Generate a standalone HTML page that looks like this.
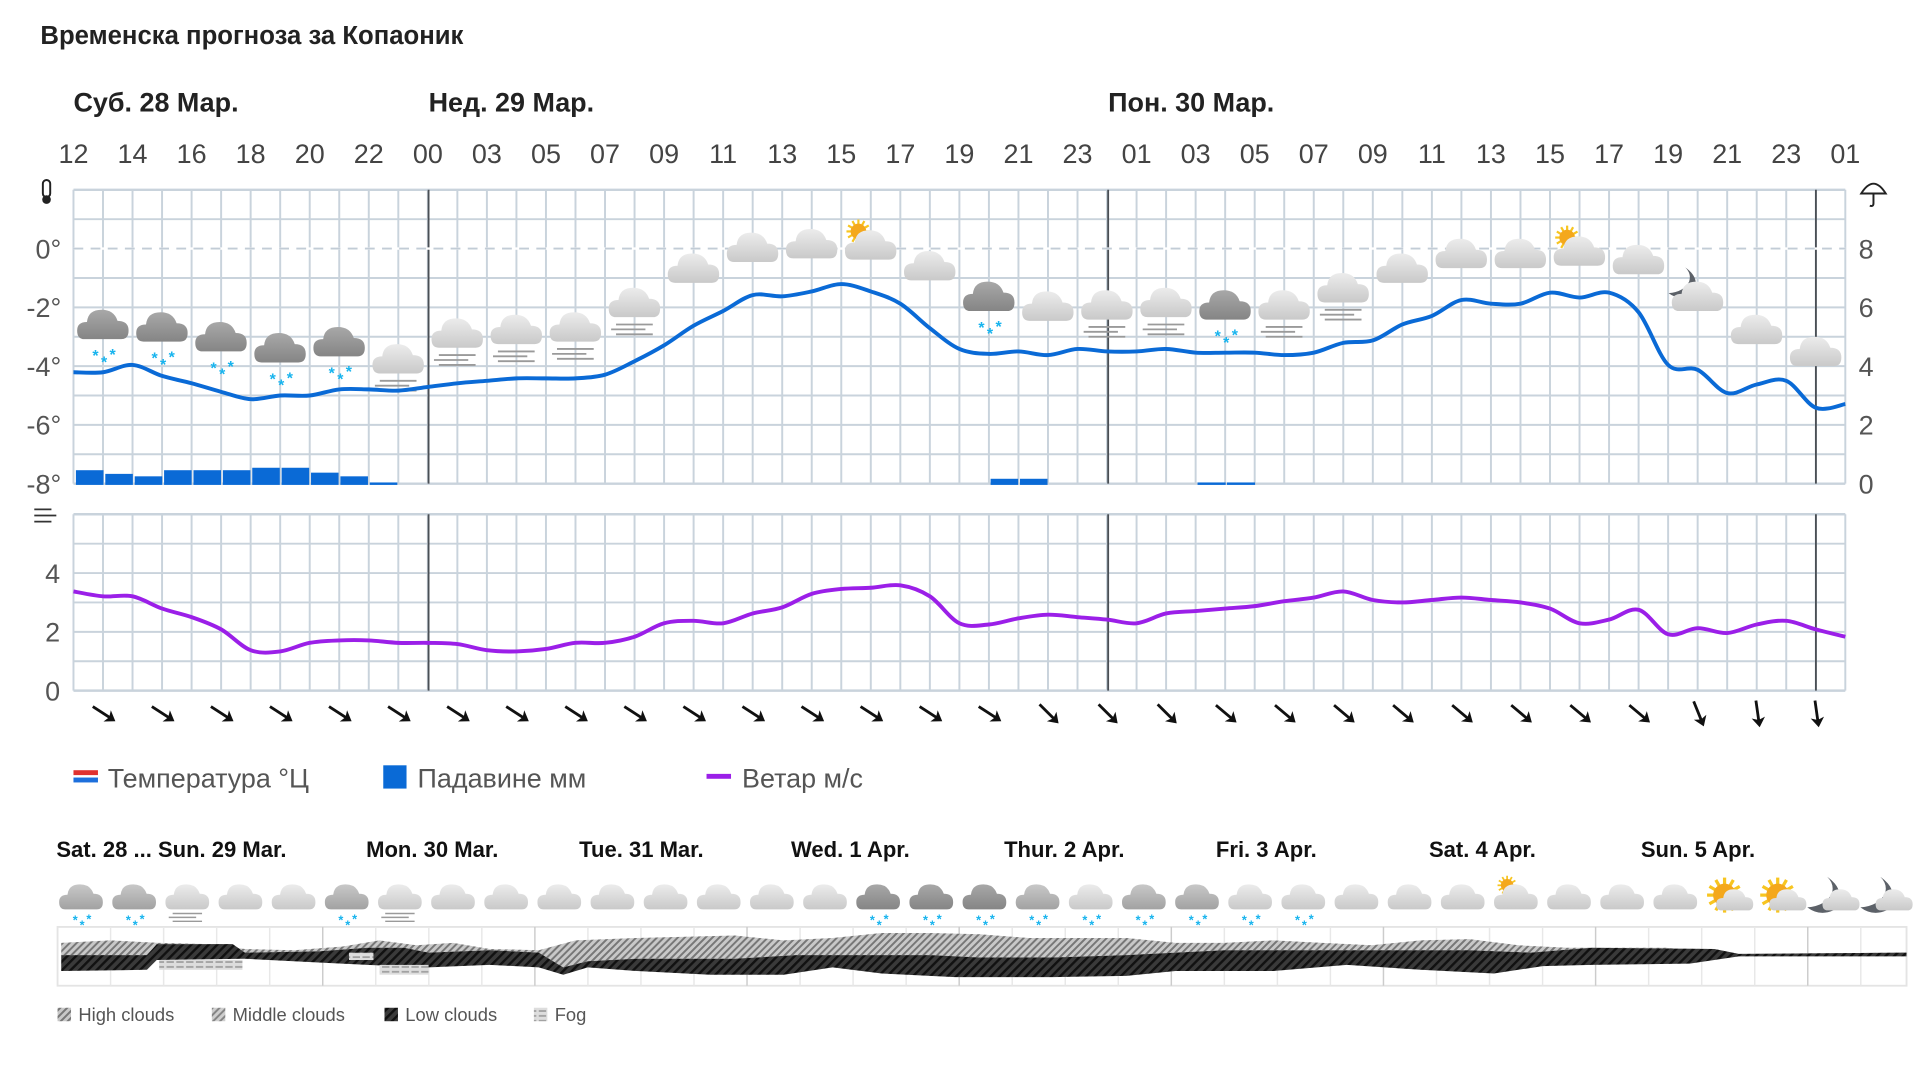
<!DOCTYPE html>
<html><head><meta charset="utf-8"><style>
html,body{margin:0;padding:0;background:#fff;width:1920px;height:1080px;overflow:hidden}
svg{display:block}
text{font-family:"Liberation Sans",sans-serif}
</style></head><body>
<svg id="s" width="1920" height="1080" viewBox="0 0 1568 882" xmlns="http://www.w3.org/2000/svg">
<defs>
<linearGradient id="gl" x1="0" y1="0" x2="0" y2="1"><stop offset="0" stop-color="#ececec"/><stop offset="1" stop-color="#c9c9c9"/></linearGradient>
<linearGradient id="gd" x1="0" y1="0" x2="0" y2="1"><stop offset="0" stop-color="#a8a8a8"/><stop offset="1" stop-color="#858585"/></linearGradient>
<linearGradient id="gm" x1="0" y1="0" x2="0" y2="1"><stop offset="0" stop-color="#c8c8c8"/><stop offset="1" stop-color="#a2a2a2"/></linearGradient>
<pattern id="pl" width="5" height="5" patternUnits="userSpaceOnUse" patternTransform="rotate(45)"><rect width="5" height="5" fill="#3a3a3a"/><rect width="2" height="5" fill="#111"/></pattern>
<pattern id="ph" width="4" height="4" patternUnits="userSpaceOnUse" patternTransform="rotate(45)"><rect width="4" height="4" fill="#c8c8c8"/><rect width="1.6" height="4" fill="#777"/></pattern>
<pattern id="pf" width="8" height="4" patternUnits="userSpaceOnUse"><rect width="8" height="4" fill="#ddd"/><rect y="1" width="6" height="1.3" fill="#999"/></pattern>
</defs>
</svg>
<script>
const S=document.getElementById('s');let h='';
const T=(x,y,t,sz,o)=>{o=o||{};h+=`<text x="${x}" y="${y}" font-size="${sz}" fill="${o.f||'#333'}" font-weight="${o.b?'bold':'normal'}" text-anchor="${o.a||'start'}">${t}</text>`};
T(33,36,'Временска прогноза за Копаоник',21,{b:1,f:'#222'});
T(60,91,'Суб. 28 Мар.',22,{b:1,f:'#222'});T(350,91,'Нед. 29 Мар.',22,{b:1,f:'#222'});T(905,91,'Пон. 30 Мар.',22,{b:1,f:'#222'});
const hrs='12 14 16 18 20 22 00 03 05 07 09 11 13 15 17 19 21 23 01 03 05 07 09 11 13 15 17 19 21 23 01'.split(' ');
const st=(1507-60)/60;
hrs.forEach((t,i)=>T(60+i*2*st,133,t,22,{a:'middle',f:'#444'}));
function grid(y0,y1,dash){for(let i=0;i<=60;i++){let x=60+i*st;h+=`<line x1="${x}" y1="${y0}" x2="${x}" y2="${y1}" stroke="#c9d3dc" stroke-width="1.6"/>`;}
for(let y=y0;y<=y1+0.1;y+=24){h+=`<line x1="60" y1="${y}" x2="1507" y2="${y}" stroke="#c9d3dc" stroke-width="${y==y0||y==y1?2:1.6}"/>`;}
[350,905,1483].forEach(x=>h+=`<line x1="${x}" y1="${y0}" x2="${x}" y2="${y1}" stroke="#4a4f55" stroke-width="1.5"/>`);}
grid(155,395,203);grid(420,564);
h+=`<line x1="60" y1="203" x2="1507" y2="203" stroke="#fff" stroke-width="2"/><line x1="60" y1="203" x2="1507" y2="203" stroke="#c2ccd6" stroke-width="1.6" stroke-dasharray="8 6"/>`;
[['0°',203],['-2°',251],['-4°',299],['-6°',347],['-8°',395]].forEach(a=>T(50,a[1]+8,a[0],22,{a:'end',f:'#555'}));
[['8',203],['6',251],['4',299],['2',347],['0',395]].forEach(a=>T(1524,a[1]+8,a[0],22,{a:'middle',f:'#555'}));
[['4',468],['2',516],['0',564]].forEach(a=>T(43,a[1]+8,a[0],22,{a:'middle',f:'#555'}));
h+=`<rect x="35" y="147" width="6" height="14" rx="3" fill="none" stroke="#222" stroke-width="1.6"/><circle cx="38" cy="163" r="3.5" fill="#222"/>`;
h+=`<path d="M1520 158 Q1530 142 1540 158 Z" fill="none" stroke="#222" stroke-width="1.6"/><path d="M1530 158 V166 Q1530 169 1527 168" fill="none" stroke="#222" stroke-width="1.6"/>`;
h+=`<path d="M28 416 H42 M28 421 H46 M28 426 H42" stroke="#333" stroke-width="1.5" fill="none"/>`;
[[62,384],[86,387],[110,389],[134,384],[158,384],[182,384],[206,382],[230,382],[254,386],[278,389],[302,394],[809,391],[833,391],[978,394],[1002,394]].forEach(b=>h+=`<rect x="${b[0]}" y="${b[1]}" width="${b[0]>=978?23:22.5}" height="${396-b[1]}" fill="#0a6ad6"/>`);
function smooth(p){let d=`M${p[0][0]} ${p[0][1]}`;for(let i=0;i<p.length-1;i++){let p0=p[i-1]||p[i],p1=p[i],p2=p[i+1],p3=p[i+2]||p2;d+=` C${p1[0]+(p2[0]-p0[0])/6} ${p1[1]+(p2[1]-p0[1])/6} ${p2[0]-(p3[0]-p1[0])/6} ${p2[1]-(p3[1]-p1[1])/6} ${p2[0]} ${p2[1]}`;}return d;}
const tp=[304,304,298,307,313,320,326,323,323,318,318,319,316,313,311,309,309,309,306,295,282,266,254,241,242,238,232,238,248,268,285,289,287,290,285,287,287,285,288,288,288,290,288,280,278,265,258,245,248,248,239,243,239,255,298,302,321,314,311,333,330];
const wp=[483,487,487,497,504,514,531,532,525,523,523,525,525,526,531,532,530,525,525,520,509,507,509,501,496,485,481,480,478,487,509,510,505,502,504,506,509,501,499,497,495,491,488,483,490,492,490,488,490,492,497,509,506,498,518,513,517,510,507,514,520];
function cloud(x,y,s,fill){return `<g transform="translate(${x} ${y}) scale(${s})"><path d="M-16 9 Q-22 9 -22 2 Q-22 -5 -14 -5 Q-13 -15 -2 -15 Q8 -15 11 -6 Q20 -6 20 2 Q20 9 14 9 Z" fill="${fill}"/></g>`;}
function snow(x,y,s){let r='';[[-7,0],[0,5],[7,-1]].forEach(o=>r+=`<text x="${x+o[0]*s}" y="${y+o[1]*s}" font-size="${13*s}" fill="#18b4ee" text-anchor="middle" font-weight="bold">*</text>`);return r;}
function fog(x,y,s){return `<path d="M${x-16*s} ${y} h${30*s} M${x-20*s} ${y+4*s} h${28*s} M${x-16*s} ${y+8*s} h${30*s}" stroke="#9a9a9a" stroke-width="${1.5*s}"/>`;}
function sun(x,y,s){let r=`<g transform="translate(${x} ${y}) scale(${s})">`;for(let a=0;a<360;a+=30){let c=Math.cos(a*Math.PI/180),d=Math.sin(a*Math.PI/180);r+=`<line x1="${c*8}" y1="${d*8}" x2="${c*13}" y2="${d*13}" stroke="#f7c520" stroke-width="2.4"/>`;}return r+`<circle r="8.5" fill="#f4a81c"/></g>`;}
function moon(x,y,s){return `<g transform="translate(${x} ${y}) scale(${s})"><path d="M0 -12 Q14 -2 4 10 Q-5 14 -13 8 Q-1 7 3 -1 Q5 -7 0 -12Z" fill="#5c6168"/></g>`;}
const cy=[268,270,278,287,282,296,275,272,270,250,222,205,202,203,220,245,253,252,250,252,252,238,222,210,210,208,215,245,272,290];
const ty=['s','s','s','s','s','f','f','f','f','f','c','c','c','u','c','s','c','f','f','s','f','f','c','c','c','u','c','m','c','c'];
cy.forEach((y,i)=>{let x=85+i*2*st,t=ty[i];
if(t=='u')h+=sun(x-11,y-14,0.75);if(t=='m')h+=moon(x-11,y-14,1.05);
h+=cloud(x,y,1,t=='s'?'url(#gd)':'url(#gl)');
if(t=='s')h+=snow(x,y+27,1);if(t=='f')h+=fog(x,y+15,1);});
h+=`<path d="${smooth(tp.map((v,i)=>[60+i*st,v]))}" fill="none" stroke="#0a6ad6" stroke-width="3.2"/>`;
h+=`<path d="${smooth(wp.map((v,i)=>[60+i*st,v]))}" fill="none" stroke="#9b1fe8" stroke-width="3.2"/>`;
for(let i=0;i<30;i++){let x=85+i*2*st,a=i<16?33:(i<27?45:(i==27?68:82));if(i>=19&&i<27)a=40;
h+=`<g transform="translate(${x} 583) rotate(${a})"><line x1="-11" y1="0" x2="8" y2="0" stroke="#111" stroke-width="2.3"/><path d="M11 0 L3 -5.5 L5 0 L3 5.5Z" fill="#111"/></g>`;}
h+=`<rect x="60" y="629" width="20" height="4" fill="#e0312f"/><rect x="60" y="635" width="20" height="4" fill="#1d6fdc"/>`;T(88,643,'Температура °Ц',22,{f:'#555'});
h+=`<rect x="313" y="625" width="19" height="19" fill="#0a6ad6"/>`;T(341,643,'Падавине мм',22,{f:'#555'});
h+=`<rect x="577" y="632" width="20" height="4" fill="#9b1fe8"/>`;T(606,643,'Ветар м/с',22,{f:'#555'});
[['Sat. 28 ... Sun. 29 Mar.',46],['Mon. 30 Mar.',299],['Tue. 31 Mar.',473],['Wed. 1 Apr.',646],['Thur. 2 Apr.',820],['Fri. 3 Apr.',993],['Sat. 4 Apr.',1167],['Sun. 5 Apr.',1340]].forEach(a=>T(a[1],700,a[0],18,{b:1,f:'#111'}));
const bt='M M F L L Ms F L L L L L L L L D D D Ms Ls Ms Ms Ls Ls L L L U L L L B B N N'.split(' ');
const sp=43.4;
bt.forEach((t,i)=>{let x=67+i*sp,y=735;
if(t=='U')h+=sun(x-8,y-12,0.6);if(t=='B')h+=sun(x-4,y-4,1.1);if(t=='N')h+=moon(x-7,y-4,1.25);
let f=t[0]=='D'?'url(#gd)':(t[0]=='M'?'url(#gm)':'url(#gl)');
h+=cloud(t=='B'||t=='N'?x+5:x,t=='B'||t=='N'?y+2:y,t=='B'||t=='N'?0.72:0.85,f);
if(t.length>1||t=='M'||t=='D')h+=snow(x,y+20,0.8);if(t=='F')h+=fog(x,y+11,0.8);});
h+=`<rect x="47" y="757" width="1510" height="48" fill="none" stroke="#e4e4e4" stroke-width="1.5"/>`;
for(let i=1;i<35;i++){let x=47+i*sp*0.998;h+=`<line x1="${x}" y1="757" x2="${x}" y2="805" stroke="${[5,9,13,17,21,25,29,33].includes(i)?'#ccc':'#e8e8e8'}" stroke-width="1.2"/>`;}
const up=[[50,770],[90,768],[130,770],[170,771],[200,775],[240,776],[280,773],[310,768],[340,772],[370,770],[400,775],[440,776],[470,768],[520,766],[560,765],[600,764],[640,768],[680,766],[720,762],[760,762],[800,763],[840,766],[880,766],[920,766],[960,770],[1000,770],[1040,768],[1080,770],[1120,772],[1160,768],[1200,767],[1240,772],[1280,774],[1320,774],[1360,774],[1400,777],[1420,779],[1557,779]];
const dt=[[50,780],[120,780],[128,771],[190,771],[200,778],[260,777],[300,774],[330,774],[350,778],[400,776],[440,778],[460,790],[480,785],[520,783],[600,783],[650,780],[700,780],[760,780],[800,782],[860,782],[920,780],[1000,776],[1100,776],[1160,776],[1200,776],[1250,778],[1300,774],[1400,775],[1420,779],[1557,778]];
const db=[[50,793],[120,792],[128,784],[200,783],[260,786],[300,788],[350,790],[400,788],[440,790],[460,796],[480,790],[520,793],[580,796],[640,796],[680,790],[720,795],[780,798],[860,798],[920,797],[960,793],[1040,793],[1100,788],[1160,792],[1220,795],[1260,789],[1300,788],[1380,787],[1420,781],[1557,781]];
const P=a=>a.map(p=>p.join(' ')).join(' L');
h+=`<path d="M${P(up)} L${P(dt.slice().reverse())}Z" fill="url(#ph)"/>`;
h+=`<path d="M${P(dt)} L${P(db.slice().reverse())}Z" fill="url(#pl)"/>`;
h+=`<rect x="130" y="784" width="68" height="8" fill="url(#pf)"/><rect x="310" y="788" width="40" height="8" fill="url(#pf)"/><rect x="285" y="778" width="20" height="6" fill="url(#pf)"/>`;
h+=`<rect x="47" y="823" width="11" height="11" fill="url(#ph)"/>`;T(64,834,'High clouds',15,{f:'#555'});
h+=`<rect x="173" y="823" width="11" height="11" fill="url(#ph)" opacity="0.9"/>`;T(190,834,'Middle clouds',15,{f:'#555'});
h+=`<rect x="314" y="823" width="11" height="11" fill="url(#pl)"/>`;T(331,834,'Low clouds',15,{f:'#555'});
h+=`<rect x="436" y="823" width="11" height="11" fill="url(#pf)"/>`;T(453,834,'Fog',15,{f:'#555'});
S.insertAdjacentHTML('beforeend',h);
</script>
</body></html>
